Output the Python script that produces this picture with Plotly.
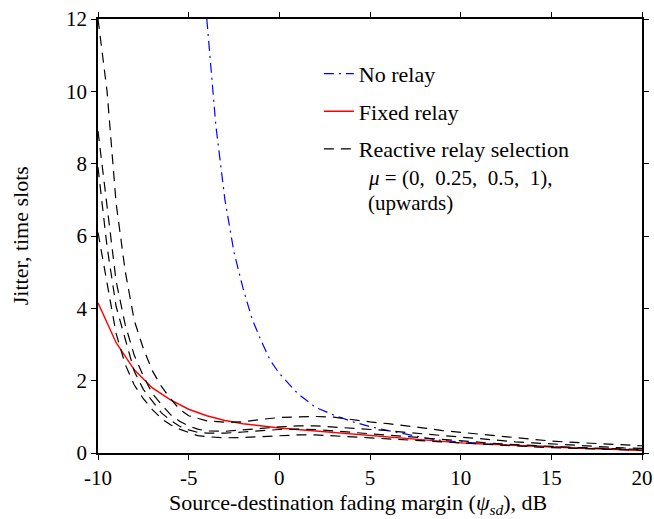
import plotly.graph_objects as go

# ---- data ----
x_steep = [-10, -9.5, -9, -8.5, -8, -7.5, -7, -6.5, -6, -5.5, -5, -4.5, -4,
           -3, -2, -1, 0, 1, 2, 3, 4, 5, 6, 7, 8, 9, 10, 11, 12, 13, 14, 15,
           16, 17, 18, 19, 20]

rrs_mu0 = [6.1, 4.65, 3.3, 2.45, 1.88, 1.5, 1.2, 0.95, 0.78, 0.66, 0.56, 0.48, 0.45,
           0.42, 0.43, 0.46, 0.48, 0.5, 0.5, 0.48, 0.45, 0.42, 0.39, 0.36, 0.33, 0.3,
           0.27, 0.25, 0.22, 0.2, 0.17, 0.15, 0.13, 0.12, 0.1, 0.09, 0.08]
rrs_mu025 = [7.9, 5.7, 4.05, 3.15, 2.26, 1.76, 1.42, 1.11, 0.9, 0.74, 0.64, 0.57, 0.55,
             0.55, 0.58, 0.62, 0.65, 0.66, 0.65, 0.61, 0.57, 0.53, 0.49, 0.44, 0.4, 0.36,
             0.33, 0.3, 0.26, 0.23, 0.2, 0.18, 0.16, 0.14, 0.12, 0.11, 0.1]
rrs_mu05 = [8.9, 6.75, 4.75, 3.55, 2.7, 2.13, 1.64, 1.34, 1.06, 0.88, 0.75, 0.66, 0.61,
            0.6, 0.63, 0.68, 0.72, 0.75, 0.75, 0.72, 0.69, 0.65, 0.62, 0.57, 0.52, 0.47,
            0.44, 0.4, 0.35, 0.31, 0.28, 0.25, 0.22, 0.19, 0.16, 0.14, 0.13]
rrs_mu1 = [12.0, 10.0, 6.9, 5.03, 3.66, 2.89, 2.27, 1.84, 1.5, 1.21, 1.03, 0.95, 0.89,
           0.85, 0.86, 0.93, 0.98, 1.0, 1.01, 0.99, 0.92, 0.86, 0.81, 0.76, 0.69, 0.62,
           0.57, 0.52, 0.46, 0.41, 0.37, 0.33, 0.3, 0.27, 0.24, 0.22, 0.2]

x_fixed = [-10, -9, -8, -7, -6, -5, -4, -3, -2, -1, 0, 1, 2, 3, 4, 5, 6, 7, 8, 9,
           10, 11, 12, 13, 14, 15, 16, 17, 18, 19, 20]
fixed_relay = [4.15, 3.05, 2.3, 1.8, 1.47, 1.21, 1.03, 0.9, 0.81, 0.74, 0.69, 0.65,
               0.61, 0.57, 0.52, 0.47, 0.43, 0.39, 0.35, 0.31, 0.28, 0.255, 0.23,
               0.205, 0.18, 0.16, 0.14, 0.125, 0.11, 0.09, 0.07]

x_norelay = [-4, -3.5, -3, -2.5, -2, -1.5, -1, -0.5, 0, 1, 2, 3, 4, 5, 6, 7, 8, 9,
             10, 11, 12, 13, 14, 15, 16, 17, 18, 19, 20]
no_relay = [12.0, 9.05, 7.0, 5.55, 4.55, 3.7, 3.1, 2.56, 2.2, 1.65, 1.26, 1.05, 0.87,
            0.73, 0.62, 0.51, 0.42, 0.34, 0.3, 0.27, 0.24, 0.21, 0.19, 0.17, 0.15,
            0.13, 0.11, 0.1, 0.08]

x_ticks = [-10, -5, 0, 5, 10, 15, 20]
y_ticks = [0, 2, 4, 6, 8, 10, 12]

FONT = "Liberation Serif, Times New Roman, serif"
DASH_BLACK = "10px,7px"
DASH_BLUE = "10px,5px,2px,5px"

fig = go.Figure()

fig.add_trace(go.Scatter(x=x_norelay, y=no_relay, mode="lines", name="No relay",
                         legendgroup="a",
                         line=dict(color="#0000ff", width=1.2, dash=DASH_BLUE)))
fig.add_trace(go.Scatter(x=x_fixed, y=fixed_relay, mode="lines", name="Fixed relay",
                         legendgroup="b",
                         line=dict(color="#ff0000", width=1.4)))
rrs = [rrs_mu0, rrs_mu025, rrs_mu05, rrs_mu1]
for i, ys in enumerate(rrs):
    fig.add_trace(go.Scatter(x=x_steep, y=ys, mode="lines",
                             name="Reactive relay selection",
                             legendgroup="c", showlegend=(i == 0),
                             line=dict(color="black", width=1.2, dash=DASH_BLACK)))

# extra legend lines
fig.add_annotation(xref="paper", yref="paper", x=0.493, y=0.634, xanchor="left",
                   yanchor="middle", showarrow=False,
                   text="<i>μ</i> = (0,  0.25,  0.5,  1),",
                   font=dict(family=FONT, size=21, color="black"))
fig.add_annotation(xref="paper", yref="paper", x=0.493, y=0.576, xanchor="left",
                   yanchor="middle", showarrow=False,
                   text="(upwards)",
                   font=dict(family=FONT, size=21, color="black"))

# axis titles
fig.add_annotation(xref="paper", yref="paper", x=0.478, y=-0.118, xanchor="center",
                   yanchor="middle", showarrow=False,
                   text="Source-destination fading margin (<i>ψ</i><sub><i>sd</i></sub>), dB",
                   font=dict(family=FONT, size=22, color="black"))
fig.add_annotation(xref="paper", yref="paper", x=-0.143, y=0.5, xanchor="center",
                   yanchor="middle", showarrow=False, textangle=-90,
                   text="Jitter, time slots",
                   font=dict(family=FONT, size=22, color="black"))

fig.update_layout(
    width=654, height=519,
    margin=dict(l=98, r=12, t=19, b=66),
    paper_bgcolor="white", plot_bgcolor="white",
    font=dict(family=FONT, size=21, color="black"),
    showlegend=True,
    legend=dict(x=0.406, y=0.922, xanchor="left", yanchor="top",
                bgcolor="rgba(0,0,0,0)", tracegroupgap=6,
                traceorder="grouped",
                font=dict(family=FONT, size=22, color="black")),
    xaxis=dict(range=[-10, 20], tickvals=x_ticks, ticktext=[str(v) for v in x_ticks],
               showgrid=False, zeroline=False, showline=True, linecolor="black",
               linewidth=1.5, mirror="ticks", ticks="outside", ticklen=5,
               tickcolor="black", tickwidth=1, automargin=False,
               ticklabeloverflow="allow",
               tickfont=dict(family=FONT, size=21)),
    yaxis=dict(range=[0, 12], tickvals=y_ticks, ticktext=[str(v) for v in y_ticks],
               showgrid=False, zeroline=False, showline=True, linecolor="black",
               linewidth=1.5, mirror="ticks", ticks="outside", ticklen=5,
               tickcolor="black", tickwidth=1, automargin=False,
               ticklabeloverflow="allow",
               tickfont=dict(family=FONT, size=21)),
)

# remove the default 8px page margin so the figure fills the window exactly
fig.write_html("out.html", config={"displayModeBar": False},
               post_script="document.body.style.margin='0px';")
